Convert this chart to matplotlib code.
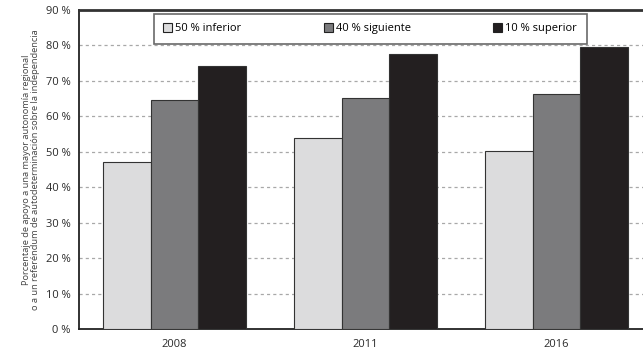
import numpy as np
import matplotlib.pyplot as plt
from matplotlib.patches import Patch

plt.rcParams['font.family'] = ['Open Sans', 'DejaVu Sans']

years = ['2008', '2011', '2016']
series_names = ['50 % inferior', '40 % siguiente', '10 % superior']
inferior_50 = [47.0, 53.8, 50.2]
siguiente_40 = [64.5, 65.2, 66.2]
superior_10 = [74.2, 77.6, 79.6]
yticks = [0, 10, 20, 30, 40, 50, 60, 70, 80, 90]

colors = ['#dcdcdd', '#7b7b7d', '#231f20']

fig = plt.figure(figsize=(6.43, 3.56), dpi=100)
ax = fig.add_axes([79 / 643, 27 / 356, 573 / 643, 319 / 356])

x = np.arange(len(years))
w = 0.25
for i, (vals, c) in enumerate(zip([inferior_50, siguiente_40, superior_10], colors)):
    ax.bar(x + (i - 1) * w, vals, width=w, color=c, edgecolor='#333333',
           linewidth=0.8, zorder=3)

ax.set_xlim(-0.5, 2.5)
ax.set_ylim(0, 90)
ax.set_yticks(yticks)
ax.set_yticklabels([f'{t} %' for t in yticks], fontsize=8, color='#2a2a2a')
ax.set_xticks(x)
ax.set_xticklabels(years, fontsize=8, color='#2a2a2a')
ax.tick_params(axis='both', length=0, pad=6)
ax.tick_params(axis='x', pad=7)

# dashed reference lines between 0 and 90
for t in yticks[1:-1]:
    ax.axhline(t, color='#a8a8a8', linestyle=(0, (2.5, 2.5)), linewidth=0.9, zorder=1)

for s in ['left', 'bottom']:
    ax.spines[s].set_linewidth(1.3)
    ax.spines[s].set_color('#222222')
ax.spines['top'].set_linewidth(2.0)
ax.spines['top'].set_color('#333333')
ax.spines['right'].set_visible(False)

ax.set_ylabel('Porcentaje de apoyo a una mayor autonomía regional\n'
              'o a un referéndum de autodeterminación sobre la independencia',
              fontsize=6.7, color='#444444', linespacing=1.0, labelpad=4)

handles = [Patch(facecolor=c, edgecolor='#222222', linewidth=0.8) for c in colors]
leg = ax.legend(handles, series_names, loc='upper center', bbox_to_anchor=(0.508, 0.988),
                ncol=3, frameon=True, fancybox=False, fontsize=8,
                handlelength=0.8, handleheight=0.8, handletextpad=0.3,
                columnspacing=7.4, borderpad=0.85, borderaxespad=0)
leg.get_frame().set_edgecolor('#444444')
leg.get_frame().set_linewidth(1.2)
leg.set_zorder(5)

fig.savefig('out.png', dpi=100)
